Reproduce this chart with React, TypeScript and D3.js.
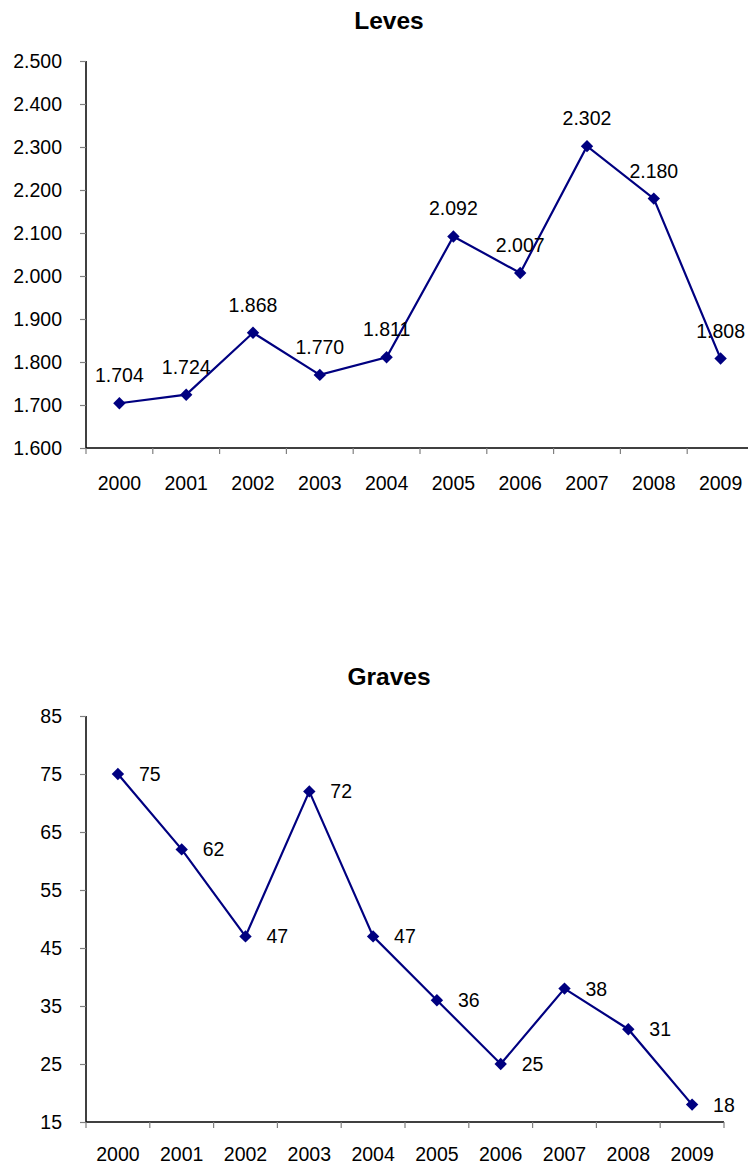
import { useEffect, useRef } from "react";
import * as d3 from "d3";

const years = ["2000", "2001", "2002", "2003", "2004", "2005", "2006", "2007", "2008", "2009"];
const levesValues = [1704, 1724, 1868, 1770, 1811, 2092, 2007, 2302, 2180, 1808];
const gravesValues = [75, 62, 47, 72, 47, 36, 25, 38, 31, 18];
const levesTicks = [1600, 1700, 1800, 1900, 2000, 2100, 2200, 2300, 2400, 2500];
const gravesTicks = [15, 25, 35, 45, 55, 65, 75, 85];

const esLocale = d3.formatLocale({
  decimal: ",",
  thousands: ".",
  grouping: [3],
  currency: ["", " €"],
});
const fmtLeves = (v: number) => esLocale.format(",.0f")(v);

interface PanelSpec {
  title: string;
  values: number[];
  ticks: number[];
  fmt: (v: number) => string;
  top: number; // y of title
  plotTop: number;
  plotBottom: number;
  plotLeft: number;
  plotRight: number;
  xLabelGap: number;
  labelPos: "above" | "right";
}

const FONT = "'Liberation Sans', Arial, sans-serif";
const NAVY = "#000080";
const FS = "19.5px";

function drawPanel(svg: d3.Selection<SVGSVGElement, unknown, null, undefined>, p: PanelSpec) {
  const g = svg.append("g");

  const x = d3.scaleBand<string>().domain(years).range([p.plotLeft, p.plotRight]);
  const y = d3
    .scaleLinear()
    .domain([p.ticks[0], p.ticks[p.ticks.length - 1]])
    .range([p.plotBottom, p.plotTop]);

  g.append("text")
    .attr("x", 389)
    .attr("y", p.top)
    .attr("text-anchor", "middle")
    .attr("dominant-baseline", "central")
    .style("font-family", FONT)
    .style("font-size", "24.5px")
    .style("font-weight", "bold")
    .text(p.title);

  // y axis
  const yAxis = g
    .append("g")
    .attr("transform", `translate(${p.plotLeft},0)`)
    .call(d3.axisLeft(y).tickValues(p.ticks).tickFormat((d) => p.fmt(d as number)).tickSize(6).tickPadding(18));
  yAxis.select(".domain").attr("stroke", "#000").attr("stroke-width", 1.5).attr("d", `M0,${p.plotTop}V${p.plotBottom}`);
  yAxis.selectAll(".tick line").attr("stroke", "#808080").attr("stroke-width", 1.2);
  yAxis
    .selectAll(".tick text")
    .style("font-family", FONT)
    .style("font-size", FS)
    .attr("fill", "#000");

  // x axis
  const bounds = years.map((yr) => x(yr)!).concat([p.plotRight]);
  const xg = g.append("g");
  xg.append("line")
    .attr("x1", p.plotLeft)
    .attr("x2", p.plotRight)
    .attr("y1", p.plotBottom)
    .attr("y2", p.plotBottom)
    .attr("stroke", "#000")
    .attr("stroke-width", 1.5);
  xg.selectAll("line.tk")
    .data(bounds)
    .join("line")
    .attr("class", "tk")
    .attr("x1", (d) => d)
    .attr("x2", (d) => d)
    .attr("y1", p.plotBottom)
    .attr("y2", p.plotBottom + 6)
    .attr("stroke", "#808080")
    .attr("stroke-width", 1.2);
  xg.selectAll("text")
    .data(years)
    .join("text")
    .attr("x", (d) => x(d)! + x.bandwidth() / 2)
    .attr("y", p.plotBottom + p.xLabelGap)
    .attr("text-anchor", "middle")
    .attr("dominant-baseline", "central")
    .style("font-family", FONT)
    .style("font-size", FS)
    .text((d) => d);

  const cx = (i: number) => x(years[i])! + x.bandwidth() / 2;

  const line = d3
    .line<number>()
    .x((_, i) => cx(i))
    .y((d) => y(d));

  g.append("path")
    .datum(p.values)
    .attr("d", line)
    .attr("fill", "none")
    .attr("stroke", NAVY)
    .attr("stroke-width", 2.2);

  const sym = d3.symbol().type(d3.symbolDiamond2).size(98);
  g.selectAll("path.pt")
    .data(p.values)
    .join("path")
    .attr("class", "pt")
    .attr("d", sym)
    .attr("transform", (d, i) => `translate(${cx(i)},${y(d)})`)
    .attr("fill", NAVY);

  g.selectAll("text.lbl")
    .data(p.values)
    .join("text")
    .attr("class", "lbl")
    .attr("x", (_, i) => (p.labelPos === "above" ? cx(i) : cx(i) + 21))
    .attr("y", (d) => (p.labelPos === "above" ? y(d) - 28 : y(d)))
    .attr("text-anchor", p.labelPos === "above" ? "middle" : "start")
    .attr("dominant-baseline", "central")
    .style("font-family", FONT)
    .style("font-size", FS)
    .text((d) => p.fmt(d));
}

export default function App() {
  const svgRef = useRef<SVGSVGElement>(null);

  useEffect(() => {
    if (!svgRef.current) return;
    document.body.style.margin = "0";
    const svg = d3.select(svgRef.current);
    svg.selectAll("*").remove();

    drawPanel(svg, {
      title: "Leves",
      values: levesValues,
      ticks: levesTicks,
      fmt: fmtLeves,
      top: 20,
      plotTop: 61,
      plotBottom: 448,
      plotLeft: 86,
      plotRight: 754,
      xLabelGap: 35,
      labelPos: "above",
    });

    drawPanel(svg, {
      title: "Graves",
      values: gravesValues,
      ticks: gravesTicks,
      fmt: (v) => String(v),
      top: 676,
      plotTop: 716,
      plotBottom: 1122,
      plotLeft: 86,
      plotRight: 724,
      xLabelGap: 32,
      labelPos: "right",
    });
  }, []);

  return (
    <svg
      ref={svgRef}
      width={748}
      height={1166}
      style={{ display: "block", background: "#fff" }}
    />
  );
}
